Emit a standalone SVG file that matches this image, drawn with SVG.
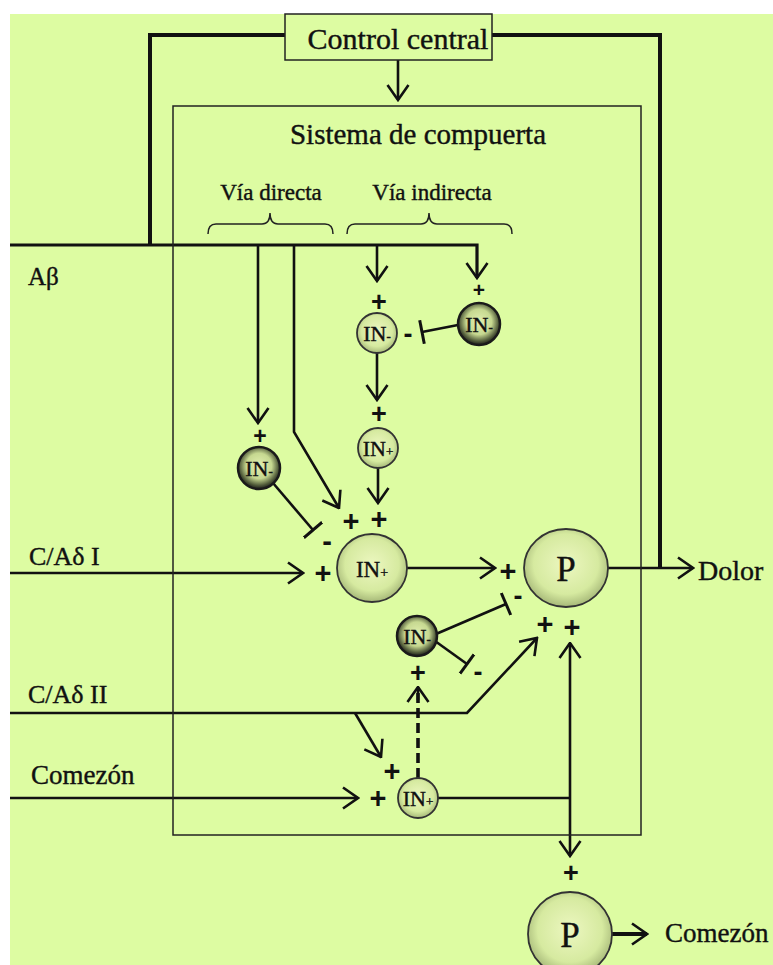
<svg xmlns="http://www.w3.org/2000/svg" width="773" height="965" viewBox="0 0 773 965">
<style>
.t{font-family:"Liberation Serif","Times New Roman",serif;fill:#111;stroke:#111;stroke-width:0.4}
.s{font-family:"Liberation Sans",Arial,sans-serif;font-weight:bold;fill:#111}
.ln{fill:none;stroke:#111;stroke-width:2.6}
.thick{fill:none;stroke:#111;stroke-width:4}
.thin{fill:none;stroke:#222;stroke-width:1.5}
.light{fill:url(#gl);stroke:#333;stroke-width:1.8}
.dark{fill:url(#gd);stroke:#1a1a1a;stroke-width:2.5}
</style>
<defs>
<radialGradient id="gl" cx="50%" cy="45%" r="55%">
<stop offset="0" stop-color="#ecf7c0"/><stop offset="0.7" stop-color="#d6eaa0"/><stop offset="1" stop-color="#a6b878"/>
</radialGradient>
<radialGradient id="gd" cx="50%" cy="45%" r="55%">
<stop offset="0" stop-color="#e2f0b0"/><stop offset="0.55" stop-color="#c6d890"/><stop offset="0.85" stop-color="#4e5838"/><stop offset="1" stop-color="#1a1a1a"/>
</radialGradient>
<marker id="ar" viewBox="0 0 18 24" refX="16.5" refY="12" markerWidth="18" markerHeight="24" markerUnits="userSpaceOnUse" orient="auto">
<path d="M1.5,1.5 L16.5,12 L1.5,22.5" fill="none" stroke="#111" stroke-width="2.6"/>
</marker>
<marker id="tb" viewBox="0 0 4 24" refX="2" refY="12" markerWidth="4" markerHeight="24" markerUnits="userSpaceOnUse" orient="auto">
<path d="M2,0 L2,24" stroke="#111" stroke-width="3"/>
</marker>
</defs>
<rect x="10" y="14" width="763" height="951" fill="#ddfca2"/>

<g id="connectors">
<path class="thick" d="M285,35 H150 V245"/>
<path class="thick" d="M492,35 H660 V568"/>
<path class="ln" d="M398,60 V100" marker-end="url(#ar)"/>
<path class="ln" d="M10,245 H477 V278" marker-end="url(#ar)" style="stroke-width:3.2"/>
<path class="ln" d="M377,245 V281" marker-end="url(#ar)"/>
<path class="ln" d="M258,245 V423" marker-end="url(#ar)"/>
<path class="ln" d="M294,245 V432 L339,508" marker-end="url(#ar)"/>
<path class="ln" d="M458,325 L422,332" marker-end="url(#tb)"/>
<path class="ln" d="M377,353 V400" marker-end="url(#ar)"/>
<path class="ln" d="M378,468 V503" marker-end="url(#ar)"/>
<path class="ln" d="M273,483 L313,530" marker-end="url(#tb)"/>
<path class="ln" d="M10,573 H303" marker-end="url(#ar)"/>
<path class="ln" d="M407,568 H495" marker-end="url(#ar)"/>
<path class="ln" d="M608,568 H693" marker-end="url(#ar)"/>
<path class="ln" d="M436,634 L506,604" marker-end="url(#tb)"/>
<path class="ln" d="M435,641 L467,664" marker-end="url(#tb)"/>
<path class="ln" d="M10,713 H467 L537,638" marker-end="url(#ar)"/>
<path class="ln" d="M355,713 L381,757" marker-end="url(#ar)"/>
<path class="ln" d="M10,798 H358" marker-end="url(#ar)"/>
<path class="ln" d="M418,778 V690" style="stroke-width:3.6;stroke-dasharray:10,5"/>
<path class="ln" d="M418,700 V687" marker-end="url(#ar)"/>
<path class="ln" d="M438,798 H570"/>
<path class="ln" d="M570,798 V643" marker-end="url(#ar)"/>
<path class="ln" d="M570,798 V856" marker-end="url(#ar)"/>
<path class="ln" d="M612,934 H647" marker-end="url(#ar)" style="stroke-width:4"/>
<path class="thin" d="M208,234 Q208,224 216,224 L262,224 Q270,224 270,213 Q270,224 278,224 L325,224 Q333,224 333,234"/>
<path class="thin" d="M347,234 Q347,224 355,224 L421,224 Q429,224 429,213 Q429,224 437,224 L504,224 Q512,224 512,234"/>
</g>

<g id="control-central">
<rect x="285" y="14" width="207" height="46" fill="#ddfca2" stroke="#222" stroke-width="1.5"/>
<text class="t" x="398" y="49" font-size="30" text-anchor="middle">Control central</text>
</g>
<g id="sistema">
<rect x="173" y="106" width="468" height="729" class="thin"/>
<text class="t" x="418" y="144" font-size="29" text-anchor="middle">Sistema de compuerta</text>
<text class="t" x="271" y="200" font-size="23" text-anchor="middle">Vía directa</text>
<text class="t" x="432" y="200" font-size="23" text-anchor="middle">Vía indirecta</text>
</g>

<g id="labels">
<text class="t" x="28" y="285" font-size="25">Aβ</text>
<text class="t" x="29" y="565" font-size="26">C/Aδ I</text>
<text class="t" x="28" y="703" font-size="26">C/Aδ II</text>
<text class="t" x="31" y="784" font-size="27">Comezón</text>
<text class="t" x="698" y="580" font-size="28">Dolor</text>
<text class="t" x="665" y="942" font-size="27">Comezón</text>
</g>

<g id="signs" class="s">
<text x="379" y="311" font-size="27" text-anchor="middle">+</text>
<text x="479" y="297" font-size="21" text-anchor="middle">+</text>
<text x="408" y="343" font-size="27" text-anchor="middle">-</text>
<text x="379" y="423" font-size="27" text-anchor="middle">+</text>
<text x="260" y="444" font-size="23" text-anchor="middle">+</text>
<text x="351" y="531" font-size="29" text-anchor="middle">+</text>
<text x="379" y="529" font-size="29" text-anchor="middle">+</text>
<text x="327" y="551" font-size="29" text-anchor="middle">-</text>
<text x="323" y="583" font-size="29" text-anchor="middle">+</text>
<text x="508" y="581" font-size="29" text-anchor="middle">+</text>
<text x="518" y="605" font-size="27" text-anchor="middle">-</text>
<text x="545" y="634" font-size="29" text-anchor="middle">+</text>
<text x="572" y="637" font-size="29" text-anchor="middle">+</text>
<text x="478" y="681" font-size="27" text-anchor="middle">-</text>
<text x="418" y="682" font-size="27" text-anchor="middle">+</text>
<text x="392" y="781" font-size="29" text-anchor="middle">+</text>
<text x="378" y="808" font-size="29" text-anchor="middle">+</text>
<text x="571" y="882" font-size="27" text-anchor="middle">+</text>
</g>

<g id="n-in-ind1"><circle class="light" cx="377" cy="333" r="20"/><text class="t" x="377" y="341" font-size="22" text-anchor="middle">IN<tspan font-size="13">-</tspan></text></g>
<g id="n-in-ind2"><circle class="dark" cx="479" cy="324" r="21"/><text class="t" x="479" y="332" font-size="22" text-anchor="middle">IN<tspan font-size="13">-</tspan></text></g>
<g id="n-in-ind3"><circle class="light" cx="378" cy="448" r="20"/><text class="t" x="378" y="456" font-size="22" text-anchor="middle">IN<tspan font-size="13">+</tspan></text></g>
<g id="n-in-dir"><circle class="dark" cx="259" cy="468" r="21"/><text class="t" x="259" y="476" font-size="22" text-anchor="middle">IN<tspan font-size="13">-</tspan></text></g>
<g id="n-in-main"><ellipse class="light" cx="372" cy="568" rx="35" ry="34"/><text class="t" x="372" y="577" font-size="23" text-anchor="middle">IN<tspan font-size="14">+</tspan></text></g>
<g id="n-p-dolor"><ellipse class="light" cx="566" cy="568" rx="42" ry="39"/><text class="t" x="566" y="581" font-size="35" text-anchor="middle">P</text></g>
<g id="n-in-low"><circle class="dark" cx="417" cy="636" r="20"/><text class="t" x="417" y="644" font-size="22" text-anchor="middle">IN<tspan font-size="13">-</tspan></text></g>
<g id="n-in-com"><circle class="light" cx="418" cy="798" r="20"/><text class="t" x="418" y="806" font-size="22" text-anchor="middle">IN<tspan font-size="13">+</tspan></text></g>
<g id="n-p-com"><circle class="light" cx="570" cy="934" r="42"/><text class="t" x="570" y="947" font-size="35" text-anchor="middle">P</text></g>
</svg>
